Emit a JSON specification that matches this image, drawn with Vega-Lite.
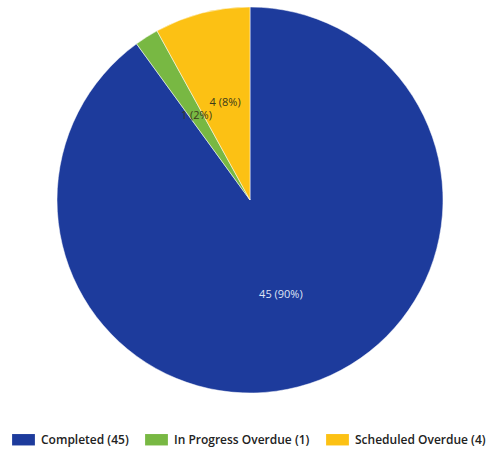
{
  "$schema": "https://vega.github.io/schema/vega-lite/v6.json",
  "width": 500,
  "height": 400,
  "padding": {"left": 0, "top": 0, "right": 0, "bottom": 55},
  "autosize": {"type": "none"},
  "background": "white",
  "data": {"values": [
    {"category": "Completed (45)", "value": 45, "label": "45 (90%)", "order": 1},
    {"category": "In Progress Overdue (1)", "value": 1, "label": "1 (2%)", "order": 2},
    {"category": "Scheduled Overdue (4)", "value": 4, "label": "4 (8%)", "order": 3}
  ]},
  "encoding": {
    "theta": {"field": "value", "type": "quantitative", "stack": true},
    "order": {"field": "order", "type": "quantitative"}
  },
  "layer": [
    {
      "mark": {"type": "arc", "outerRadius": 193, "stroke": "white", "strokeWidth": 0.5},
      "encoding": {
        "color": {
          "field": "category", "type": "nominal",
          "sort": ["Completed (45)", "In Progress Overdue (1)", "Scheduled Overdue (4)"],
          "scale": {"domain": ["Completed (45)", "In Progress Overdue (1)", "Scheduled Overdue (4)"], "range": ["#1d3b9c", "#78b843", "#fcc114"]},
          "legend": {
            "title": null,
            "orient": "none",
            "direction": "horizontal",
            "legendX": 12,
            "legendY": 428,
            "symbolType": "M-1,-0.5H1V0.5H-1Z",
            "symbolSize": 520,
            "symbolStrokeWidth": 0,
            "symbolOpacity": 1,
            "labelFont": "Open Sans",
            "labelFontSize": 12,
            "labelFontWeight": 600,
            "labelColor": "#222222",
            "columnPadding": 16,
            "labelOffset": 6
          }
        }
      }
    },
    {
      "mark": {"type": "text", "radius": 100, "font": "Open Sans", "fontSize": 11},
      "encoding": {
        "text": {"field": "label"},
        "color": {
          "condition": {"test": "datum.order == 1", "value": "#dfe4f5"},
          "value": "#3a3a1a"
        }
      }
    }
  ]
}
